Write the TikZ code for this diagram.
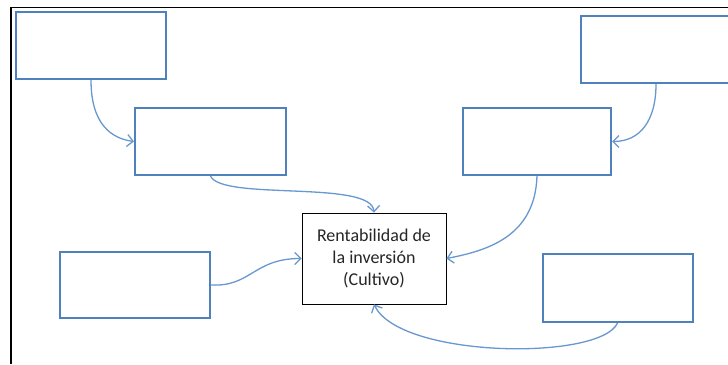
\documentclass[tikz,border=0pt]{standalone}
\usepackage{fontspec}
\setmainfont{Carlito}
\usetikzlibrary{arrows.meta,positioning}
\definecolor{azul}{RGB}{79,129,189}
\definecolor{azulclaro}{RGB}{104,152,208}

\begin{document}
\begin{tikzpicture}[>={Straight Barb[length=6pt,width=12pt]},x=1pt,y=-1pt,
  caja/.style={draw=azul,line width=2pt,minimum width=150pt,minimum height=67pt,inner sep=0pt},
  centro/.style={draw=black,line width=0.8pt,minimum width=144pt,minimum height=91pt,align=center,
    font=\fontsize{18}{22}\selectfont,text=black!85},
  flecha/.style={->,draw=azulclaro,line width=1.3pt}]
\clip (0,0) rectangle (728,364);
\fill[white] (0,0) rectangle (728,364);
\draw[line width=1.8pt] (11,364) -- (11,7.5) -- (728,7.5);
% cajas
\node[caja] (A) at (91,45.5) {};
\node[caja,minimum width=151pt] (B) at (210.5,141.5) {};
\node[caja] (C) at (656,49.5) {};
\node[caja,minimum width=148pt] (D) at (537,141.5) {};
\node[caja,minimum height=66pt] (E) at (135,285) {};
\node[caja,minimum height=68pt] (F) at (617.5,288) {};
\node[centro] (R) at (374,258.5) {Rentabilidad de\\la inversión\\(Cultivo)};
% flechas
\draw[flecha] (A.south) .. controls +(0,45) and +(-22,-3) .. (B.west);
\draw[flecha] (B.south) .. controls +(11,25) and +(-2,-33) .. (R.north);
\draw[flecha] (C.south) .. controls +(0,37) and +(28,0) .. (D.east);
\draw[flecha] (D.south) .. controls +(-2,60) and +(42,-8) .. (R.east);
\draw[flecha] (E.east) .. controls +(40,2) and +(-48,0) .. (R.west);
\draw[flecha] (F.south) .. controls +(-17,38) and +(26,54) .. (R.south);
\end{tikzpicture}
\end{document}
